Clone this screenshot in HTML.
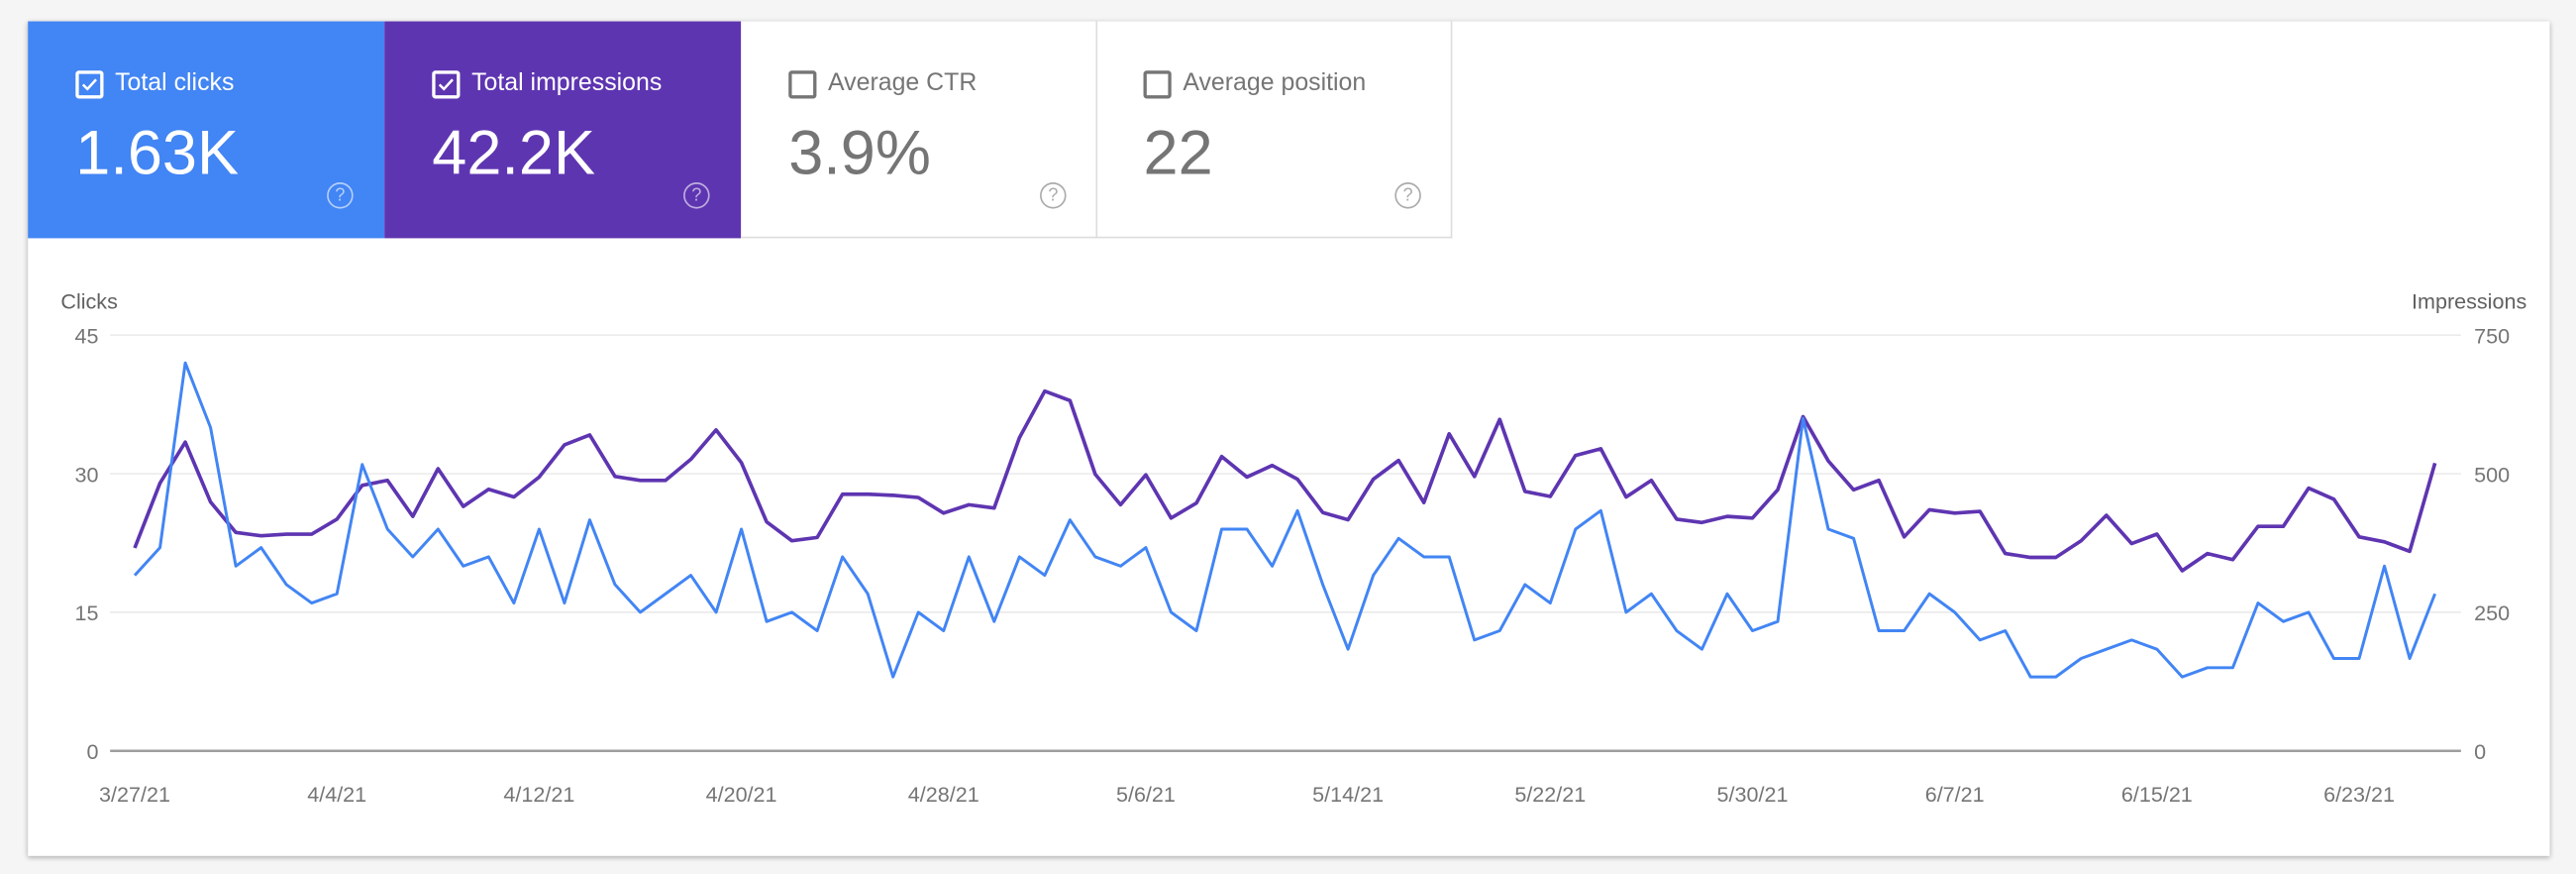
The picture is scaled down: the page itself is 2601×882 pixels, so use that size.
<!DOCTYPE html>
<html><head><meta charset="utf-8">
<style>
html,body{margin:0;padding:0;background:#f5f5f5;overflow:hidden;}
#root{position:absolute;left:0;top:0;width:1568px;height:532px;transform:scale(1.6588,1.658);transform-origin:0 0;font-family:"Liberation Sans",Arial,sans-serif;}
.card{position:absolute;left:17px;top:13px;width:1535px;height:508px;background:#fff;box-shadow:0 1px 3px rgba(0,0,0,.3);}
.tab{position:absolute;top:0;height:132px;width:217px;box-sizing:border-box;}
.tab .cb{position:absolute;left:29px;top:30px;width:13px;height:13px;border:2px solid currentColor;border-radius:2px;}
.tab .lbl{position:absolute;left:53px;top:29px;font-size:15px;}
.tab .num{position:absolute;left:29px;top:60px;font-size:38px;}
.tab .help{position:absolute;left:182px;top:98px;width:14px;height:14px;border:1.5px solid currentColor;border-radius:50%;font-size:11px;line-height:14px;text-align:center;opacity:.6;}
</style></head><body>
<div id="root">
<div class="card">
 <div class="tab" style="left:0;background:#4285f4;color:#fff">
  <div class="cb"><svg width="13" height="13" viewBox="0 0 13 13"><path d="M2.5 6.5l2.7 2.7 5.3-5.8" stroke="#fff" stroke-width="1.5" fill="none"/></svg></div>
  <div class="lbl">Total clicks</div>
  <div class="num">1.63K</div>
  <div class="help">?</div>
 </div>
 <div class="tab" style="left:217px;background:#5e35b1;color:#fff">
  <div class="cb"><svg width="13" height="13" viewBox="0 0 13 13"><path d="M2.5 6.5l2.7 2.7 5.3-5.8" stroke="#fff" stroke-width="1.5" fill="none"/></svg></div>
  <div class="lbl">Total impressions</div>
  <div class="num">42.2K</div>
  <div class="help">?</div>
 </div>
 <div class="tab" style="left:434px;color:#757575;border-right:1px solid #ddd;border-bottom:1px solid #ddd">
  <div class="cb"></div>
  <div class="lbl">Average CTR</div>
  <div class="num">3.9%</div>
  <div class="help">?</div>
 </div>
 <div class="tab" style="left:650px;color:#757575;border-right:1px solid #ddd;border-bottom:1px solid #ddd">
  <div class="cb"></div>
  <div class="lbl">Average position</div>
  <div class="num">22</div>
  <div class="help">?</div>
 </div>
</div>
<svg id="chart" width="1568" height="532" style="position:absolute;left:0;top:0" font-family="Liberation Sans, Arial, sans-serif"></svg>
</div>
<script>
const clicks=[19,22,42,35,20,22,18,16,17,31,24,21,24,20,21,16,24,16,25,18,15,17,19,15,24,14,15,13,21,17,8,15,13,21,14,21,19,25,21,20,22,15,13,24,24,20,26,18,11,19,23,21,21,12,13,18,16,24,26,15,17,13,11,17,13,14,36,24,23,13,13,17,15,12,13,8,8,10,11,12,11,8,9,9,16,14,15,10,10,20,10,17];
const impressions=[366,483,557,449,394,388,391,391,418,479,488,423,509,441,472,458,494,552,570,495,488,488,526,579,520,413,379,385,463,463,461,457,429,444,438,565,649,632,499,444,498,420,447,531,494,515,490,430,417,490,524,448,572,495,598,468,459,533,545,458,488,418,412,423,420,471,603,523,471,488,386,435,429,432,356,349,349,379,425,374,391,325,356,345,405,405,474,454,386,377,360,519];
const xTickLabels=["3/27/21","4/4/21","4/12/21","4/20/21","4/28/21","5/6/21","5/14/21","5/22/21","5/30/21","6/7/21","6/15/21","6/23/21"];
const xTickIndex=[0,8,16,24,32,40,48,56,64,72,80,88];
const leftTicks=[0,15,30,45];
const rightTicks=[0,250,500,750];
const NS="http://www.w3.org/2000/svg";
const svg=document.getElementById('chart');
const X0=82,X1=1436,IDX1=88,Y0=457,Y1=204,GL=67,GR=1498;
const x=i=>X0+(X1-X0)*i/IDX1;
const yL=v=>Y0-(Y0-Y1)*v/45;
const yR=v=>Y0-(Y0-Y1)*v/750;
function mk(t,a){const e=document.createElementNS(NS,t);for(const k in a)e.setAttribute(k,a[k]);svg.appendChild(e);return e;}
leftTicks.forEach((v,i)=>{
 const g=mk('line',{x1:GL,x2:GR,y1:yL(v),y2:yL(v),stroke:v===0?'#9e9e9e':'#ebebeb','stroke-width':v===0?1.5:1});
 
 
 const t=mk('text',{x:60,y:yL(v)+5,'text-anchor':'end','font-size':13,fill:'#757575'});t.textContent=v;
 
 
});
rightTicks.forEach(v=>{
 const t=mk('text',{x:1506,y:yR(v)+5,'font-size':13,fill:'#757575'});t.textContent=v;
 
 
});
xTickIndex.forEach((idx,i)=>{
 const t=mk('text',{x:x(idx),y:488,'text-anchor':'middle','font-size':13,fill:'#757575'});t.textContent=xTickLabels[i];
 
 
});
let t=mk('text',{x:37,y:188,'font-size':13,fill:'#616161'});t.textContent='Clicks';


t=mk('text',{x:1538,y:188,'text-anchor':'end','font-size':13,fill:'#616161'});t.textContent='Impressions';


const pi=mk('polyline',{points:impressions.map((v,i)=>x(i)+','+yR(v)).join(' '),fill:'none',stroke:'#5e35b1','stroke-width':2.2,'stroke-linejoin':'round'});


const pc=mk('polyline',{points:clicks.map((v,i)=>x(i)+','+yL(v)).join(' '),fill:'none',stroke:'#4285f4','stroke-width':1.8,'stroke-linejoin':'round'});


</script>
</body></html>
